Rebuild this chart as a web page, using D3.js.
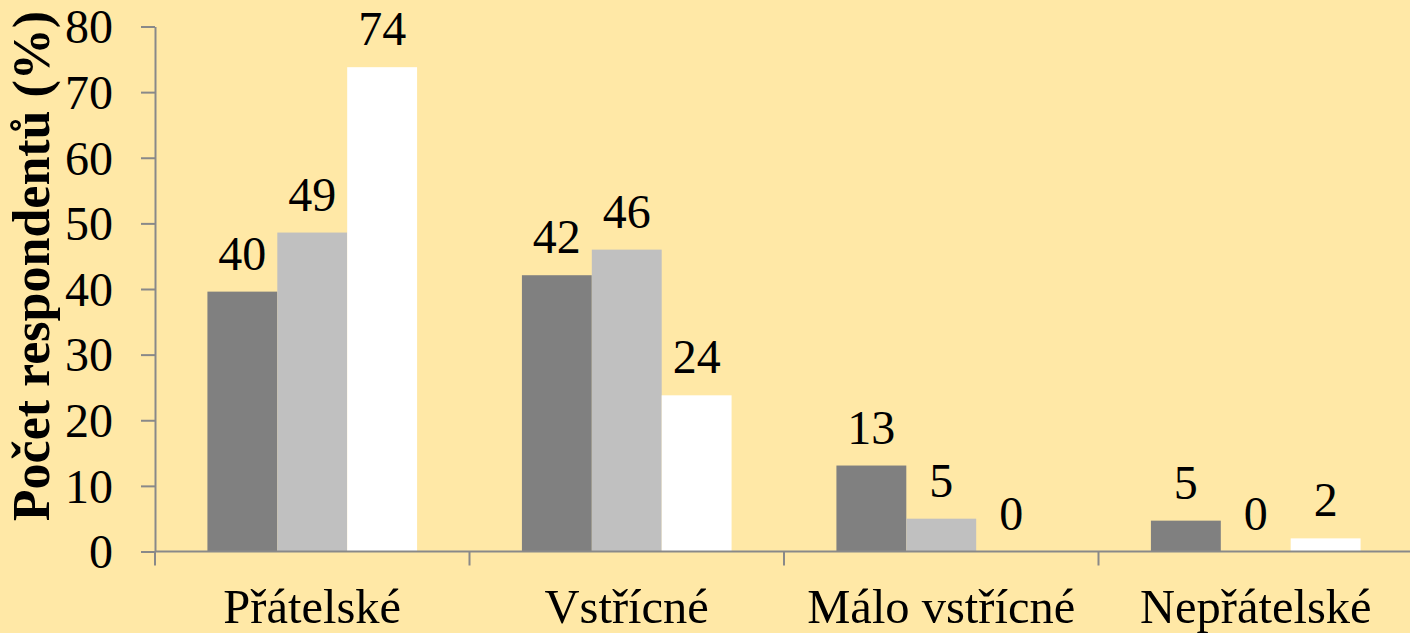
<!DOCTYPE html>
<html>
<head>
<meta charset="utf-8">
<script src="https://cdn.jsdelivr.net/npm/d3@7"></script>
<style>
  html, body { margin: 0; padding: 0; background: #FFE8A6; }
  svg { display: block; }
  #chart text { font-family: 'Liberation Serif', 'Times New Roman', Tinos, Times !important; }
</style>
</head>
<body>
<svg id="chart" width="1410" height="633" font-family="Liberation Serif"></svg>
<script>
const categories = ["Přátelské", "Vstřícné", "Málo vstřícné", "Nepřátelské"];
const seriesNames = ["A", "B", "C"];
const seriesA = [39.6, 42.1, 13.1, 4.7];
const seriesB = [48.6, 46.0, 5.0, 0];
const seriesC = [73.8, 23.8, 0, 2.0];
const labelsA = ["40", "42", "13", "5"];
const labelsB = ["49", "46", "5", "0"];
const labelsC = ["74", "24", "0", "2"];
const yTicks = [0, 10, 20, 30, 40, 50, 60, 70, 80];
const colors = ["#808080", "#C0C0C0", "#FFFFFF"];
const yTitle = "Počet respondentů (%)";

(function () {
const FONT = "'Liberation Serif', 'Times New Roman', Tinos, Times";
const seriesVals = [seriesA, seriesB, seriesC];
const seriesLabels = [labelsA, labelsB, labelsC];

const svg = d3.select("#chart");
const W = 1410, H = 633;
svg.append("rect").attr("width", W).attr("height", H).attr("fill", "#FFE8A6");

const pLeft = 155, pRight = 1413, pTop = 26.5, pBottom = 551.5;

const x0 = d3.scaleBand().domain(categories).range([pLeft, pRight]).paddingInner(0).paddingOuter(0);
const x1 = d3.scaleBand().domain(seriesNames).range([0, x0.bandwidth()]).paddingInner(0).paddingOuter(0.75);
const y = d3.scaleLinear().domain([0, 80]).range([pBottom, pTop]);

const axisColor = "#898989";

// Y axis
const yAxis = svg.append("g").attr("transform", `translate(${pLeft},0)`)
  .call(d3.axisLeft(y).tickValues(yTicks).tickSize(14).tickPadding(28).tickSizeOuter(0));
yAxis.attr("font-family", null).attr("font-size", 48);
yAxis.select(".domain").attr("stroke", axisColor).attr("stroke-width", 2);
yAxis.selectAll(".tick line").attr("stroke", axisColor).attr("stroke-width", 2);
yAxis.selectAll(".tick text").attr("font-size", 48).style("font-family", FONT).attr("fill", "#000").attr("dy", "0.34em");

// Bars
const groups = svg.append("g").selectAll("g").data(categories).join("g")
  .attr("transform", d => `translate(${x0(d)},0)`);

seriesNames.forEach((s, si) => {
  groups.append("rect")
    .attr("x", x1(s))
    .attr("width", x1.bandwidth())
    .attr("y", (d, i) => y(seriesVals[si][i]))
    .attr("height", (d, i) => pBottom - y(seriesVals[si][i]))
    .attr("fill", colors[si]);
  groups.append("text")
    .attr("x", x1(s) + x1.bandwidth() / 2)
    .attr("y", (d, i) => y(seriesVals[si][i]) - 22)
    .attr("text-anchor", "middle")
    .style("font-family", FONT)
    .attr("font-size", 48)
    .attr("fill", "#000")
    .text((d, i) => seriesLabels[si][i]);
});

// X axis
const xAxis = svg.append("g").attr("transform", `translate(0,${pBottom})`);
xAxis.append("line").attr("x1", pLeft).attr("x2", W).attr("y1", 0).attr("y2", 0)
  .attr("stroke", axisColor).attr("stroke-width", 2);
const boundaries = categories.map(c => x0(c));
xAxis.selectAll("line.tk").data(boundaries).join("line").attr("class", "tk")
  .attr("x1", d => d).attr("x2", d => d).attr("y1", 0).attr("y2", 14)
  .attr("stroke", axisColor).attr("stroke-width", 2);
xAxis.selectAll("text").data(categories).join("text")
  .attr("x", d => x0(d) + x0.bandwidth() / 2)
  .attr("y", 71)
  .attr("text-anchor", "middle")
  .style("font-family", FONT)
  .attr("font-size", 48.5)
  .attr("fill", "#000")
  .text(d => d);

// Y title
svg.append("text")
  .attr("transform", `translate(49,266) rotate(-90)`)
  .attr("text-anchor", "middle")
  .style("font-family", FONT)
  .attr("font-size", 52)
  .attr("font-weight", "bold")
  .attr("fill", "#000")
  .text(yTitle);
})();
</script>
</body>
</html>
